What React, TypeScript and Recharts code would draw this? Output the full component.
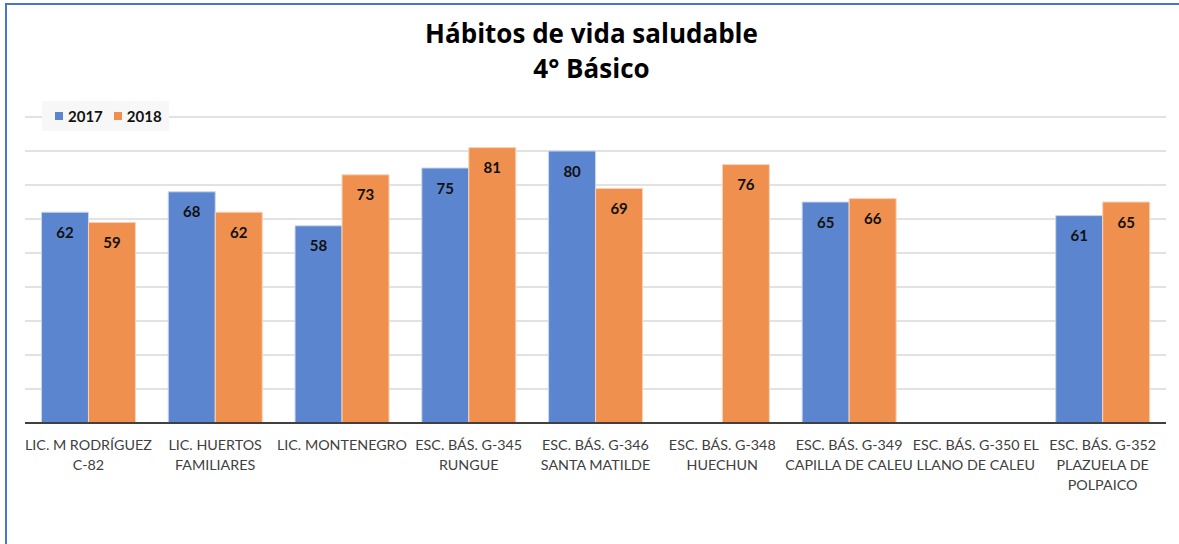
import React from "react";
import { BarChart, Bar, XAxis, YAxis, CartesianGrid, LabelList, ReferenceLine } from "recharts";

const categories = [
  "LIC. M RODRÍGUEZ\nC-82",
  "LIC. HUERTOS\nFAMILIARES",
  "LIC. MONTENEGRO",
  "ESC. BÁS. G-345\nRUNGUE",
  "ESC. BÁS. G-346\nSANTA MATILDE",
  "ESC. BÁS. G-348\nHUECHUN",
  "ESC. BÁS. G-349\nCAPILLA DE CALEU",
  "ESC. BÁS. G-350 EL\nLLANO DE CALEU",
  "ESC. BÁS. G-352\nPLAZUELA DE\nPOLPAICO",
];
const values2017: (number | null)[] = [62, 68, 58, 75, 80, null, 65, null, 61];
const values2018: (number | null)[] = [59, 62, 73, 81, 69, 76, 66, null, 65];
const yTicks = [0, 10, 20, 30, 40, 50, 60, 70, 80, 90];
const seriesNames = ["2017", "2018"];

const data = categories.map((c, i) => ({ name: c, v2017: values2017[i], v2018: values2018[i] }));

const BLUE = "#5b86cf";
const ORANGE = "#f0904f";
const FONT = "Lato, 'Open Sans', sans-serif";

const Tick = (props: any) => {
  const { x, y, payload } = props;
  const lines = String(payload.value).split("\n");
  return (
    <g transform={`translate(${x},${y})`}>
      {lines.map((l: string, i: number) => (
        <text key={i} x={0} y={18.5 + i * 20} textAnchor="middle" fill="#404040" fontSize={14.3} fontFamily={FONT}>
          {l}
        </text>
      ))}
    </g>
  );
};

export default function App() {
  return (
    <div style={{ position: "absolute", left: 0, top: 0, width: 1179, height: 544, background: "#fff", overflow: "hidden" }}>
      <div style={{ position: "absolute", left: 5, top: 3, width: 1300, height: 700, borderTop: "2px solid #4a76c8", borderLeft: "2px solid #4a76c8" }} />
      <div style={{ position: "absolute", left: 0, top: 0 }}>
        <BarChart width={1179} height={544} data={data} margin={{ top: 117, right: 13, left: 25, bottom: 41 }} barCategoryGap="13%" barGap={0}>
          <CartesianGrid vertical={false} stroke="#d9d9d9" strokeWidth={1.5} />
          <XAxis dataKey="name" height={80} axisLine={false} tickLine={false} interval={0} tick={<Tick />} />
          <YAxis hide domain={[0, 90]} ticks={yTicks} />
          <Bar dataKey="v2017" name={seriesNames[0]} fill={BLUE} stroke="#c9d6ef" strokeWidth={1} isAnimationActive={false}>
            <LabelList dataKey="v2017" position="insideTop" offset={15} fill="#111" fontSize={15} fontWeight={700} fontFamily={FONT} />
          </Bar>
          <Bar dataKey="v2018" name={seriesNames[1]} fill={ORANGE} stroke="#f8d3b8" strokeWidth={1} isAnimationActive={false}>
            <LabelList dataKey="v2018" position="insideTop" offset={15} fill="#111" fontSize={15} fontWeight={700} fontFamily={FONT} />
          </Bar>
          <ReferenceLine y={0} stroke="#404040" strokeWidth={2} />
        </BarChart>
      </div>
      <div style={{ position: "absolute", left: 0, width: 1183, top: 16, textAlign: "center", fontFamily: "'Open Sans', sans-serif", fontWeight: 700, fontSize: 26, lineHeight: "35px", color: "#000" }}>
        <div>Hábitos de vida saludable</div>
        <div>4° Básico</div>
      </div>
      <div style={{ position: "absolute", left: 42, top: 101, display: "flex", alignItems: "center", background: "#f7f7f7", padding: "6px 7px 6px 13px", fontFamily: FONT, fontWeight: 700, fontSize: 15, color: "#111" }}>
        <span style={{ width: 8, height: 8, background: BLUE, display: "inline-block", marginRight: 5 }} />
        <span style={{ marginRight: 11 }}>{seriesNames[0]}</span>
        <span style={{ width: 8, height: 8, background: ORANGE, display: "inline-block", marginRight: 5 }} />
        <span>{seriesNames[1]}</span>
      </div>
    </div>
  );
}
